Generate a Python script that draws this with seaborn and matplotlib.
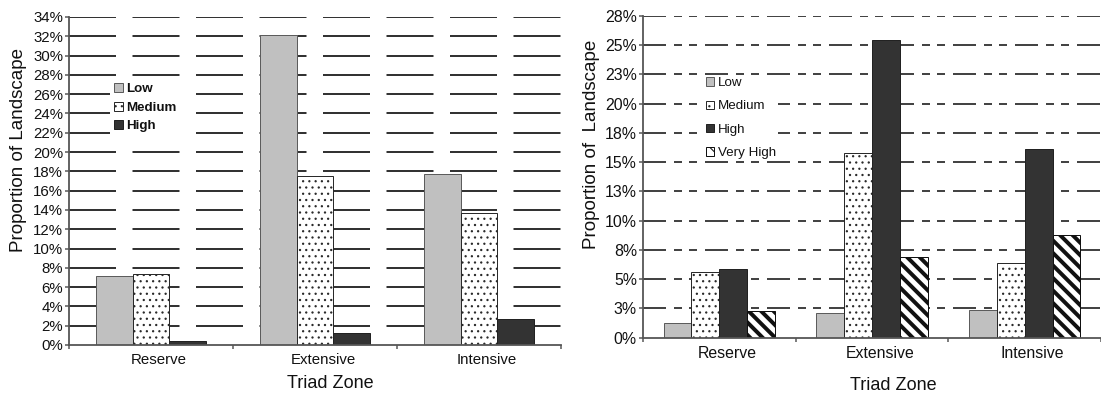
import matplotlib
matplotlib.use("Agg")
import matplotlib.pyplot as plt
import matplotlib.patches as mpatches
from matplotlib.transforms import ScaledTranslation
import seaborn as sns
import pandas as pd
import numpy as np

# ---------------- data ----------------
zones = ["Reserve", "Extensive", "Intensive"]

left_levels = ["Low", "Medium", "High"]
left_low = [7.2, 32.1, 17.7]
left_medium = [7.35, 17.5, 13.65]
left_high = [0.45, 1.2, 2.7]
left_yticks = list(range(0, 35, 2))
left_yticklabels = [f"{v}%" for v in left_yticks]

right_levels = ["Low", "Medium", "High", "Very High"]
right_low = [1.25, 2.1, 2.4]
right_medium = [5.6, 15.75, 6.35]
right_high = [5.85, 25.4, 16.15]
right_very_high = [2.25, 6.9, 8.75]
right_yticks = [0, 2.5, 5, 7.5, 10, 12.5, 15, 17.5, 20, 22.5, 25, 27.5]
right_yticklabels = ["0%", "3%", "5%", "8%", "10%", "13%", "15%", "18%",
                     "20%", "23%", "25%", "28%"]

x_label = "Triad Zone"
left_ylabel = "Proportion of Landscape"
right_ylabel = "Proportion of  Landscape"

# ---------------- setup ----------------
DPI = 75
W, H = 1101, 399
PT = 72.0 / DPI  # points per pixel

plt.rcParams["font.family"] = ["Liberation Sans", "DejaVu Sans"]
plt.rcParams["lines.scale_dashes"] = False
plt.rcParams["text.color"] = "#111111"
plt.rcParams["axes.labelcolor"] = "#111111"
plt.rcParams["xtick.color"] = "#555555"
plt.rcParams["ytick.color"] = "#555555"
plt.rcParams["xtick.labelcolor"] = "#111111"
plt.rcParams["ytick.labelcolor"] = "#111111"

fig = plt.figure(figsize=(W / DPI, H / DPI), dpi=DPI, facecolor="white")


def fx(px):
    return px / W


def fy(px):
    return 1 - px / H


# style per level: facecolor, edgecolor, hatch, hatch linewidth (pt)
styles = {
    "Low": dict(fc="#c0c0c0", ec="#5c5c5c", hatch=None, hlw=1.0),
    "Medium": dict(fc="#ffffff", ec="#2a2a2a", hatch="..", hlw=1.0),
    "High": dict(fc="#333333", ec="#222222", hatch=None, hlw=1.0),
    "Very High": dict(fc="#ffffff", ec="#111111", hatch="\\\\", hlw=3.8),
}


def style_patch(p, st):
    p.set_facecolor(st["fc"])
    p.set_edgecolor(st["ec"])
    p.set_linewidth(1.0 * PT)
    if st["hatch"]:
        p.set_hatch(st["hatch"])
        if hasattr(p, "set_hatch_linewidth"):
            p.set_hatch_linewidth(st["hlw"])
        else:
            p._hatch_linewidth = st["hlw"]


def draw_panel(ax, levels, series, width, yticks, yticklabels, ylim, xlim,
               grid_dash, grid_color, tick_fs, ylabel, ylabel_pos,
               xlabel_pos, legend_kw, legend_bold):
    rows = []
    for lvl, vals in zip(levels, series):
        for z, v in zip(zones, vals):
            rows.append({"zone": z, "level": lvl, "value": v})
    df = pd.DataFrame(rows)
    pal = {lvl: styles[lvl]["fc"] for lvl in levels}
    sns.barplot(data=df, x="zone", y="value", hue="level", order=zones,
                hue_order=levels, palette=pal, width=width, errorbar=None,
                saturation=1, legend=False, ax=ax)
    for cont, lvl in zip(ax.containers, levels):
        for p in cont.patches:
            style_patch(p, styles[lvl])
            p.set_zorder(2)

    # dashed horizontal gridlines
    for yv in yticks[1:]:
        ax.axhline(yv, color=grid_color, lw=2.0 * PT, linestyle=grid_dash,
                   zorder=0.5)

    ax.set_ylim(*ylim)
    ax.set_xlim(*xlim)
    ax.set_yticks(yticks)
    ax.set_yticklabels(yticklabels)
    ax.set_xticks(range(len(zones)))
    ax.set_xticklabels(zones)
    ax.set_xticks([-0.5, 0.5, 1.5, 2.5], minor=True)
    ax.tick_params(axis="y", which="major", direction="out", length=4 * PT,
                   width=1.5 * PT, pad=2 * PT, labelsize=tick_fs)
    ax.tick_params(axis="x", which="major", length=0, pad=8 * PT,
                   labelsize=tick_fs)
    ax.tick_params(axis="x", which="minor", direction="out", length=4 * PT,
                   width=1.5 * PT)
    for s in ["top", "right"]:
        ax.spines[s].set_visible(False)
    for s in ["left", "bottom"]:
        ax.spines[s].set_color("#555555")
        ax.spines[s].set_linewidth(1.8 * PT)
        ax.spines[s].set_zorder(3)

    ax.set_xlabel(x_label, fontsize=17.3)
    ax.xaxis.set_label_coords(*xlabel_pos)
    ax.set_ylabel(ylabel, fontsize=18)
    ax.yaxis.set_label_coords(*ylabel_pos)

    # category labels sit slightly right of the group centers
    off = ScaledTranslation(8 / DPI, 0, fig.dpi_scale_trans)
    for lbl in ax.get_xticklabels():
        lbl.set_transform(lbl.get_transform() + off)

    handles = []
    for lvl in levels:
        st = styles[lvl]
        hp = mpatches.Patch(facecolor=st["fc"], edgecolor=st["ec"],
                            linewidth=1.0 * PT, hatch=st["hatch"], label=lvl)
        if st["hatch"]:
            if hasattr(hp, "set_hatch_linewidth"):
                hp.set_hatch_linewidth(min(st["hlw"], 2.5))
        handles.append(hp)
    leg = ax.legend(handles=handles, frameon=True, loc="upper left",
                    bbox_transform=fig.transFigure,
                    borderaxespad=0, fancybox=False, framealpha=1,
                    facecolor="white", edgecolor="none",
                    prop=dict(size=12.8,
                              weight="bold" if legend_bold else "normal"),
                    **legend_kw)
    leg.set_zorder(5)
    return leg


# ---------------- left panel ----------------
axL = fig.add_axes([fx(69), fy(345), fx(561 - 69), (345 - 17) / H])
draw_panel(
    axL, left_levels, [left_low, left_medium, left_high], 0.67,
    left_yticks, left_yticklabels, (0, 34), (-0.5, 2.5),
    (0, (47 * PT, 16.5 * PT)), "#333333", 14.4,
    left_ylabel, ((27 - 69) / 492, (345 - 149.5) / 328),
    ((330 - 69) / 492, (345 - 375) / 328),
    dict(bbox_to_anchor=(fx(110), fy(79)), borderpad=0.3, handlelength=0.68,
         handleheight=0.68, handletextpad=0.25, labelspacing=0.47),
    True,
)

# ---------------- right panel ----------------
axR = fig.add_axes([fx(643), fy(337.7), fx(1101 - 643), (337.7 - 15.7) / H])
draw_panel(
    axR, right_levels, [right_low, right_medium, right_high, right_very_high],
    0.73, right_yticks, right_yticklabels, (0, 27.5), (-0.5, 2.465),
    (0, (23 * PT, 8 * PT, 8 * PT, 7 * PT, 8 * PT, 8 * PT)), "#444444", 15.2,
    right_ylabel, ((600 - 643) / 458, (337.7 - 144) / 322),
    ((893.5 - 643) / 458, (337.7 - 377) / 322),
    dict(bbox_to_anchor=(fx(704), fy(75)), borderpad=0.15, handlelength=0.6,
         handleheight=0.6, handletextpad=0.3, labelspacing=0.86),
    False,
)

fig.savefig("out.png", dpi=DPI, facecolor="white")
